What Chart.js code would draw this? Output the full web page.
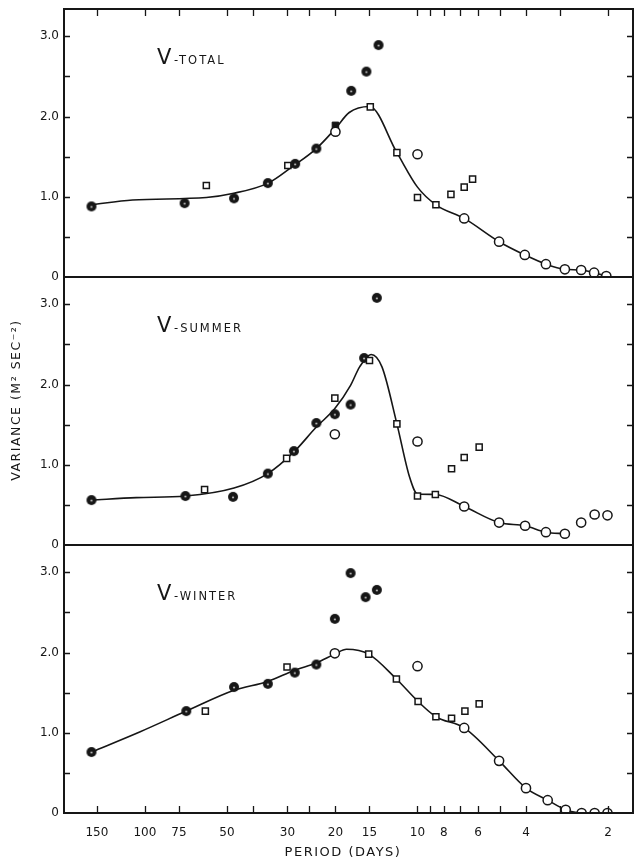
<!DOCTYPE html>
<html>
<head>
<meta charset="utf-8">
<script src="https://cdn.jsdelivr.net/npm/chart.js@4/dist/chart.umd.min.js"></script>
<style>
  html, body { margin: 0; padding: 0; background: #fff; }
</style>
</head>
<body>
<canvas id="chart" width="635" height="863"></canvas>
<script>
// Data: [period (days), variance]

const periodTicks = [150, 100, 75, 50, 30, 20, 15, 10, 8, 6, 4, 2];
const periodMinor = [150, 100, 75, 50, 40, 30, 25, 20, 15, 10, 9, 8, 7, 6, 5, 4, 3, 2];
const varianceTicks = [0, 1, 2, 3];
const panelNames = ["TOTAL", "SUMMER", "WINTER"];

const totalFilled = [[157, 0.88], [71.5, 0.92], [47.1, 0.98], [35.4, 1.17], [28.1, 1.41], [23.5, 1.60], [17.5, 2.32], [15.4, 2.56], [13.9, 2.89]];
const totalFilledSq = [[20, 1.89]];
const totalSquares = [[59.5, 1.14], [29.9, 1.39], [14.9, 2.12], [11.9, 1.55], [10.0, 0.99], [8.56, 0.90], [7.54, 1.03], [6.74, 1.12], [6.28, 1.22]];
const totalCircles = [[20, 1.81], [10.0, 1.53], [6.74, 0.73], [5.02, 0.44], [4.04, 0.275], [3.38, 0.16], [2.88, 0.096], [2.51, 0.087], [2.25, 0.054], [2.03, 0.012]];
const totalCurve = [[157, 0.90], [111, 0.96], [59.5, 0.99], [47.7, 1.04], [35.3, 1.17], [28.8, 1.375], [23.5, 1.60], [20, 1.85], [17.8, 2.05], [15, 2.125], [11.9, 1.55], [10, 1.12], [8.56, 0.90], [6.74, 0.73], [5.02, 0.44], [4.04, 0.275], [3.38, 0.16], [2.88, 0.096], [2.51, 0.087], [2.25, 0.054], [2.03, 0.012]];

const summerFilled = [[157, 0.56], [71, 0.61], [47.5, 0.60], [35.4, 0.89], [28.4, 1.17], [23.5, 1.52], [20.1, 1.63], [17.6, 1.75], [15.7, 2.33], [14.1, 3.08]];
const summerSquares = [[60.4, 0.69], [30.2, 1.08], [20.1, 1.83], [15.0, 2.30], [11.9, 1.51], [10.0, 0.61], [8.6, 0.63], [7.5, 0.95], [6.74, 1.09], [5.94, 1.22]];
const summerCircles = [[20.1, 1.38], [10.0, 1.29], [6.74, 0.48], [5.02, 0.28], [4.03, 0.24], [3.38, 0.16], [2.88, 0.14], [2.51, 0.28], [2.24, 0.38], [2.01, 0.37]];
const summerCurve = [[157, 0.56], [107.5, 0.59], [71, 0.61], [47.1, 0.71], [35.4, 0.89], [28.4, 1.16], [23.5, 1.47], [20.1, 1.70], [17.6, 1.99], [16.3, 2.22], [14.8, 2.375], [13.5, 2.22], [11.9, 1.51], [10.7, 0.85], [10.0, 0.635], [8.6, 0.63], [6.74, 0.48], [5.02, 0.28], [4.03, 0.24], [3.38, 0.16], [2.88, 0.14]];

const winterFilled = [[157, 0.76], [70.5, 1.27], [47.1, 1.57], [35.4, 1.61], [28.2, 1.75], [23.5, 1.85], [20.1, 2.42], [17.6, 2.99], [15.5, 2.69], [14.1, 2.78]];
const winterSquares = [[60, 1.27], [30.1, 1.82], [15.1, 1.98], [11.95, 1.67], [9.95, 1.39], [8.56, 1.20], [7.5, 1.18], [6.7, 1.27], [5.94, 1.36]];
const winterCircles = [[20.1, 1.99], [10.0, 1.83], [6.74, 1.06], [5.02, 0.65], [4.0, 0.31], [3.33, 0.16], [2.86, 0.04], [2.5, 0.0], [2.24, 0.0], [2.01, 0.0]];
const winterCurve = [[157, 0.76], [104.5, 1.01], [70.5, 1.27], [47.1, 1.53], [35.4, 1.64], [28.2, 1.78], [23.5, 1.87], [20.1, 1.98], [18.2, 2.04], [15.1, 1.98], [11.95, 1.67], [9.95, 1.39], [8.56, 1.20], [6.74, 1.06], [5.02, 0.65], [4.0, 0.31], [3.33, 0.16], [2.86, 0.04], [2.5, 0.0], [2.24, 0.0], [2.01, 0.0]];

// Setup

const INK = "#161616";
const FONT = "'DejaVu Sans', sans-serif";

// dark circle with a light speck in the middle, like the hatched dots of the print
function darkDot() {
    const c = document.createElement("canvas");
    c.width = 12; c.height = 12;
    const g = c.getContext("2d");
    g.fillStyle = INK;
    g.beginPath(); g.arc(6, 6, 5, 0, Math.PI * 2); g.fill();
    g.fillStyle = "#bbb";
    g.beginPath(); g.arc(6, 6.5, 1.1, 0, Math.PI * 2); g.fill();
    return c;
}
const dotImg = darkDot();

const toXY = (pts) => pts.map(p => ({ x: p[0], y: p[1] }));

function panelSets(axis, curve, filled, squares, circles, filledSq) {
    const sets = [
        {
            type: "line", data: toXY(curve), yAxisID: axis, order: 10,
            borderColor: INK, borderWidth: 1.6, pointRadius: 0,
            cubicInterpolationMode: "monotone", fill: false
        },
        {
            data: toXY(squares), yAxisID: axis, pointStyle: "rect", pointRadius: 4.3,
            backgroundColor: "#fff", borderColor: INK, borderWidth: 1.5
        },
        {
            data: toXY(circles), yAxisID: axis, pointStyle: "circle", pointRadius: 4.6,
            backgroundColor: "#fff", borderColor: INK, borderWidth: 1.5
        },
        {
            data: toXY(filled), yAxisID: axis, pointStyle: dotImg
        }
    ];
    if (filledSq) {
        sets.push({
            data: toXY(filledSq), yAxisID: axis, pointStyle: "rect", pointRadius: 4.6,
            backgroundColor: INK, borderColor: INK, borderWidth: 1
        });
    }
    return sets;
}

// top to bottom
const panelIds = ["yTotal", "ySummer", "yWinter"];

const datasets = [
    ...panelSets("yTotal", totalCurve, totalFilled, totalSquares, totalCircles, totalFilledSq),
    ...panelSets("ySummer", summerCurve, summerFilled, summerSquares, summerCircles),
    ...panelSets("yWinter", winterCurve, winterFilled, winterSquares, winterCircles)
];

function yScale() {
    return {
        type: "linear",
        position: "left",
        stack: "panels",
        stackWeight: 1,
        min: 0,
        max: 3.34,
        grid: { display: false, drawTicks: false },
        border: { display: false },
        afterBuildTicks: (s) => { s.ticks = varianceTicks.map(v => ({ value: v })); },
        afterFit: (s) => { s.width = 64; s.paddingTop = 0; s.paddingBottom = 0; },
        ticks: {
            color: INK,
            padding: 5,
            font: { family: FONT, size: 12 },
            callback: (v) => v === 0 ? "0" : v.toFixed(1)
        }
    };
}

// frame, inward ticks, panel names and axis titles
const framePlugin = {
    id: "frame",
    afterDatasetsDraw(chart) {
        const ctx = chart.ctx;
        const xs = chart.scales.x;
        const a = chart.chartArea;
        ctx.save();
        ctx.strokeStyle = INK;
        ctx.fillStyle = INK;

        panelIds.forEach((id, k) => {
            const s = chart.scales[id];
            ctx.lineWidth = 2;
            ctx.strokeRect(a.left, s.top, a.right - a.left, s.bottom - s.top);
            ctx.lineWidth = 1.3;
            for (let v = 0.5; v <= 3; v += 0.5) {
                const py = Math.round(s.getPixelForValue(v)) + 0.5;
                ctx.beginPath();
                ctx.moveTo(a.left, py); ctx.lineTo(a.left + 6, py);
                ctx.moveTo(a.right - 6, py); ctx.lineTo(a.right, py);
                ctx.stroke();
            }
            const base = s.top + 55;
            ctx.textAlign = "left";
            ctx.textBaseline = "alphabetic";
            ctx.font = "21px " + FONT;
            ctx.letterSpacing = "0px";
            ctx.fillText("V", 157, base);
            ctx.font = "11.5px " + FONT;
            ctx.letterSpacing = "2px";
            ctx.fillText("-" + panelNames[k], 174, base);
        });

        const topS = chart.scales[panelIds[0]];
        const botS = chart.scales[panelIds[2]];
        ctx.lineWidth = 1.3;
        periodMinor.forEach(p => {
            const px = Math.round(xs.getPixelForValue(p)) + 0.5;
            ctx.beginPath();
            ctx.moveTo(px, topS.top); ctx.lineTo(px, topS.top + 7);
            ctx.moveTo(px, botS.bottom); ctx.lineTo(px, botS.bottom - 7);
            ctx.stroke();
        });

        ctx.letterSpacing = "1.5px";
        ctx.font = "13px " + FONT;
        ctx.textAlign = "center";
        ctx.textBaseline = "middle";
        ctx.fillText("PERIOD (DAYS)", 343, 853);

        ctx.translate(17, 400);
        ctx.rotate(-Math.PI / 2);
        ctx.font = "12.5px " + FONT;
        ctx.fillText("VARIANCE (M\u00B2 SEC\u207B\u00B2)", 0, 0);
        ctx.restore();
    }
};

// Config

const config = {
    type: "scatter",
    data: { datasets },
    options: {
        responsive: false,
        animation: false,
        layout: { autoPadding: false, padding: { top: 9, right: 2, left: 0, bottom: 0 } },
        plugins: { legend: { display: false }, tooltip: { enabled: false } },
        scales: {
            x: {
                type: "logarithmic",
                reverse: true,
                min: 1.62,
                max: 198,
                grid: { display: false, drawTicks: false },
                border: { display: false },
                afterBuildTicks: (s) => { s.ticks = periodTicks.map(v => ({ value: v })); },
                afterFit: (s) => { s.height = 50; s.paddingLeft = 0; s.paddingRight = 0; },
                ticks: {
                    color: INK,
                    padding: 13,
                    autoSkip: false,
                    maxRotation: 0,
                    font: { family: FONT, size: 12 },
                    callback: (v) => String(v)
                }
            },
            // stacked axes are laid out bottom-up
            yWinter: yScale(),
            ySummer: yScale(),
            yTotal: yScale()
        }
    },
    plugins: [framePlugin]
};

// Render

const chart = new Chart(document.getElementById("chart"), config);
</script>
</body>
</html>
